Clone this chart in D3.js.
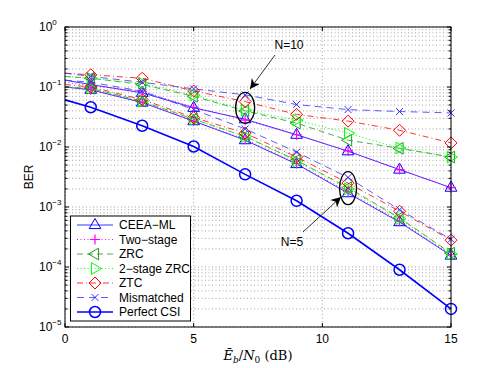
<!DOCTYPE html>
<html>
<head>
<meta charset="utf-8">
<script src="https://cdn.jsdelivr.net/npm/d3@7"></script>
<style>
  body { margin: 0; background: #fff; }
  svg { display: block; font-family: "Liberation Sans", Arial, sans-serif; }
</style>
</head>
<body>
<svg id="chart"></svg>
<script>
// Eb/N0 points (dB); markers drawn on all but the first point
const snr = [0, 1, 3, 5, 7, 9, 11, 13, 15];

// N = 10 curves
const ceeaN10 = [0.13, 0.11, 0.08, 0.045, 0.029, 0.016, 0.0085, 0.0042, 0.0021];
const twoStageN10 = [0.12, 0.105, 0.085, 0.046, 0.028, 0.016, 0.0086, 0.0042, 0.0021];
const zrcN10 = [0.15, 0.14, 0.11, 0.07, 0.04, 0.025, 0.013, 0.0095, 0.0068];
const zrc2N10 = [0.15, 0.14, 0.115, 0.073, 0.041, 0.028, 0.017, 0.0096, 0.0068];
const ztcN10 = [0.17, 0.16, 0.14, 0.086, 0.057, 0.035, 0.027, 0.019, 0.0117];
const mismatchN10 = [0.17, 0.15, 0.12, 0.093, 0.074, 0.051, 0.042, 0.039, 0.037];

// N = 5 curves
const ceeaN5 = [0.1, 0.09, 0.055, 0.027, 0.013, 0.0052, 0.0017, 0.00056, 0.000155];
const twoStageN5 = [0.1, 0.09, 0.056, 0.027, 0.0135, 0.0053, 0.0018, 0.00058, 0.00016];
const zrcN5 = [0.1, 0.095, 0.058, 0.029, 0.015, 0.006, 0.0021, 0.00066, 0.00017];
const zrc2N5 = [0.1, 0.095, 0.058, 0.029, 0.015, 0.0058, 0.002, 0.00064, 0.000165];
const ztcN5 = [0.11, 0.1, 0.062, 0.031, 0.017, 0.0068, 0.0025, 0.00085, 0.00028];
const mismatchN5 = [0.13, 0.12, 0.085, 0.042, 0.02, 0.0082, 0.0031, 0.0009, 0.00029];

// Perfect CSI
const perfectCsi = [0.061, 0.046, 0.0226, 0.0102, 0.0035, 0.00127, 0.000365, 0.00009, 0.00002];

const xTicks = [0, 5, 10, 15];
const yTickExps = [0, -1, -2, -3, -4, -5];
const legendNames = ["CEEA\u2212ML", "Two\u2212stage", "ZRC", "2\u2212stage ZRC", "ZTC", "Mismatched", "Perfect CSI"];

const width = 498, height = 368;
const margin = { left: 65, right: 47, top: 27, bottom: 41 };

const svg = d3.select("#chart").attr("width", width).attr("height", height);

const x = d3.scaleLinear().domain([0, 15]).range([margin.left, width - margin.right]);
const y = d3.scaleLog().domain([1e-5, 1]).range([height - margin.bottom, margin.top]);

// grid (MATLAB-ish dotted)
const grid = svg.append("g").attr("stroke", "#8c8c8c").attr("stroke-width", 0.8)
  .attr("stroke-dasharray", "1,2.5");
const minorY = [];
for (let e = -5; e < 0; e++) for (let m = 1; m <= 9; m++) minorY.push(m * Math.pow(10, e));
minorY.push(1);
grid.selectAll(".gy").data(minorY).join("line")
  .attr("x1", x(0)).attr("x2", x(15))
  .attr("y1", d => y(d)).attr("y2", d => y(d));
grid.selectAll(".gx").data(xTicks).join("line")
  .attr("x1", d => x(d)).attr("x2", d => x(d))
  .attr("y1", y(1)).attr("y2", y(1e-5));

// marker shapes
const drawMarker = (g, shape, cx, cy, color) => {
  const s = 6.5;
  if (shape === "tri-up") {
    g.append("path").attr("d", `M${cx},${cy - s} L${cx + s * 0.9},${cy + s * 0.55} L${cx - s * 0.9},${cy + s * 0.55}Z`)
      .attr("fill", "none").attr("stroke", color).attr("stroke-width", 1);
  } else if (shape === "tri-left") {
    g.append("path").attr("d", `M${cx - s},${cy} L${cx + s * 0.55},${cy - s * 0.9} L${cx + s * 0.55},${cy + s * 0.9}Z`)
      .attr("fill", "none").attr("stroke", color).attr("stroke-width", 1);
  } else if (shape === "tri-right") {
    g.append("path").attr("d", `M${cx + s},${cy} L${cx - s * 0.55},${cy - s * 0.9} L${cx - s * 0.55},${cy + s * 0.9}Z`)
      .attr("fill", "none").attr("stroke", color).attr("stroke-width", 1);
  } else if (shape === "plus") {
    g.append("path").attr("d", `M${cx - 5},${cy} H${cx + 5} M${cx},${cy - 5} V${cy + 5}`)
      .attr("fill", "none").attr("stroke", color).attr("stroke-width", 1.2);
  } else if (shape === "diamond") {
    g.append("path").attr("d", `M${cx},${cy - 6} L${cx + 6},${cy} L${cx},${cy + 6} L${cx - 6},${cy}Z`)
      .attr("fill", "none").attr("stroke", color).attr("stroke-width", 1);
  } else if (shape === "cross") {
    g.append("path").attr("d", `M${cx - 3.5},${cy - 3.5} L${cx + 3.5},${cy + 3.5} M${cx - 3.5},${cy + 3.5} L${cx + 3.5},${cy - 3.5}`)
      .attr("fill", "none").attr("stroke", color).attr("stroke-width", 1);
  } else if (shape === "circle") {
    g.append("circle").attr("cx", cx).attr("cy", cy).attr("r", 5.5)
      .attr("fill", "none").attr("stroke", color).attr("stroke-width", 1.5);
  }
};

const styles = [
  { name: legendNames[0], color: "#0000ff", dash: null, lw: 0.8, marker: "tri-up" },
  { name: legendNames[1], color: "#ff00ff", dash: "1,2.5", lw: 1, marker: "plus" },
  { name: legendNames[2], color: "#1f9a1f", dash: "6,4", lw: 0.8, marker: "tri-left" },
  { name: legendNames[3], color: "#00ff00", dash: "1,2.5", lw: 1, marker: "tri-right" },
  { name: legendNames[4], color: "#ff0000", dash: "6,3,1,3", lw: 0.8, marker: "diamond" },
  { name: legendNames[5], color: "#3333ff", dash: "7,5", lw: 0.8, marker: "cross" },
  { name: legendNames[6], color: "#0000ff", dash: null, lw: 1.6, marker: "circle" }
];

const curves = [
  { s: 0, v: ceeaN10 }, { s: 0, v: ceeaN5 },
  { s: 1, v: twoStageN10 }, { s: 1, v: twoStageN5 },
  { s: 2, v: zrcN10 }, { s: 2, v: zrcN5 },
  { s: 3, v: zrc2N10 }, { s: 3, v: zrc2N5 },
  { s: 4, v: ztcN10 }, { s: 4, v: ztcN5 },
  { s: 5, v: mismatchN10 }, { s: 5, v: mismatchN5 },
  { s: 6, v: perfectCsi }
];

const line = d3.line().x(d => x(d[0])).y(d => y(d[1]));
const plot = svg.append("g");
curves.forEach(c => {
  const st = styles[c.s];
  const pts = snr.map((t, i) => [t, c.v[i]]);
  plot.append("path").attr("d", line(pts)).attr("fill", "none")
    .attr("stroke", st.color).attr("stroke-width", st.lw)
    .attr("stroke-dasharray", st.dash);
  pts.slice(1).forEach(p => drawMarker(plot, st.marker, x(p[0]), y(p[1]), st.color));
});

// axes box and ticks
const ax = svg.append("g").attr("stroke", "#000").attr("stroke-width", 1);
ax.append("rect").attr("x", x(0)).attr("y", y(1)).attr("width", x(15) - x(0)).attr("height", y(1e-5) - y(1))
  .attr("fill", "none");
xTicks.forEach(t => {
  ax.append("line").attr("x1", x(t)).attr("x2", x(t)).attr("y1", y(1e-5)).attr("y2", y(1e-5) - 4);
  ax.append("line").attr("x1", x(t)).attr("x2", x(t)).attr("y1", y(1)).attr("y2", y(1) + 4);
});
minorY.forEach(v => {
  const major = Math.abs(Math.log10(v) - Math.round(Math.log10(v))) < 1e-9;
  const len = major ? 4 : 2.5;
  ax.append("line").attr("x1", x(0)).attr("x2", x(0) + len).attr("y1", y(v)).attr("y2", y(v));
  ax.append("line").attr("x1", x(15)).attr("x2", x(15) - len).attr("y1", y(v)).attr("y2", y(v));
});

// tick labels
svg.selectAll(".xl").data(xTicks).join("text")
  .attr("x", d => x(d)).attr("y", y(1e-5) + 16)
  .attr("text-anchor", "middle").attr("font-size", 12).text(d => d);
yTickExps.forEach(e => {
  const t = svg.append("text").attr("x", 39).attr("y", y(Math.pow(10, e)) + 4)
    .attr("font-size", 12);
  t.append("tspan").text("10");
  t.append("tspan").attr("dy", -6).attr("font-size", 8).text(e === 0 ? "0" : "\u2212" + (-e));
});

// axis titles
svg.append("text").attr("transform", `translate(33,${(y(1) + y(1e-5)) / 2}) rotate(-90)`)
  .attr("text-anchor", "middle").attr("font-size", 12).text("BER");
const xl = svg.append("text").attr("x", (x(0) + x(15)) / 2).attr("y", 360)
  .attr("text-anchor", "middle").attr("font-family", "'DejaVu Serif', 'Liberation Serif', serif")
  .attr("font-size", 13);
xl.append("tspan").attr("font-style", "italic").text("E\u0304");
xl.append("tspan").attr("font-style", "italic").attr("font-size", 9).attr("dy", 3).text("b");
xl.append("tspan").attr("dy", -3).text("/");
xl.append("tspan").attr("font-style", "italic").text("N");
xl.append("tspan").attr("font-size", 9).attr("dy", 3).text("0");
xl.append("tspan").attr("dy", -3).text(" (dB)");

// annotations: ellipses, arrows, labels
svg.append("defs").append("marker").attr("id", "ah").attr("viewBox", "0 0 10 10")
  .attr("refX", 10).attr("refY", 5).attr("markerWidth", 12).attr("markerHeight", 10)
  .attr("markerUnits", "userSpaceOnUse").attr("orient", "auto")
  .append("path").attr("d", "M0,0 L10,5 L0,10 L3,5Z").attr("fill", "#000");

const ann = svg.append("g");
ann.append("ellipse").attr("cx", x(7)).attr("cy", y(0.045)).attr("rx", 9.5).attr("ry", 15.5)
  .attr("fill", "none").attr("stroke", "#000").attr("stroke-width", 1.3);
ann.append("ellipse").attr("cx", x(11)).attr("cy", y(0.00206)).attr("rx", 8.5).attr("ry", 16.5)
  .attr("fill", "none").attr("stroke", "#000").attr("stroke-width", 1.3);
ann.append("line").attr("x1", 275).attr("y1", 55).attr("x2", 250).attr("y2", 89)
  .attr("stroke", "#000").attr("stroke-width", 0.8).attr("marker-end", "url(#ah)");
ann.append("line").attr("x1", 303).attr("y1", 232).attr("x2", 341).attr("y2", 197)
  .attr("stroke", "#000").attr("stroke-width", 0.8).attr("marker-end", "url(#ah)");
ann.append("text").attr("x", 289).attr("y", 49).attr("text-anchor", "middle").attr("font-size", 12).text("N=10");
ann.append("text").attr("x", 292).attr("y", 246).attr("text-anchor", "middle").attr("font-size", 12).text("N=5");

// legend
const lg = svg.append("g");
lg.append("rect").attr("x", 70.5).attr("y", 216).attr("width", 120).attr("height", 105)
  .attr("fill", "#fff").attr("stroke", "#000").attr("stroke-width", 1);
styles.forEach((st, i) => {
  const ly = 225 + i * 14.5;
  lg.append("line").attr("x1", 77).attr("x2", 113).attr("y1", ly).attr("y2", ly)
    .attr("stroke", st.color).attr("stroke-width", st.lw).attr("stroke-dasharray", st.dash);
  drawMarker(lg, st.marker, 95, ly, st.color);
  lg.append("text").attr("x", 119).attr("y", ly + 4).attr("font-size", 12).text(st.name);
});
</script>
</body>
</html>
